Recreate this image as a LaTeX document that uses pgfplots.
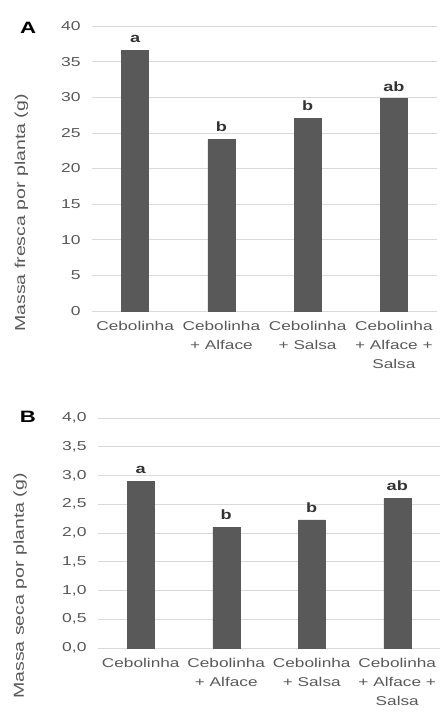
\documentclass[border=0pt]{standalone}
\usepackage{pgfplots}
\pgfplotsset{compat=1.18}
\usepackage{fontspec}
\setmainfont{Liberation Sans}[FakeStretch=1.35]
\definecolor{bar}{HTML}{595959}
\definecolor{txt}{HTML}{595959}
\definecolor{grid}{HTML}{D9D9D9}
\pgfplotsset{
  common/.style={
    scale only axis,
    clip=false,
    xmin=-0.5, xmax=3.5,
    ymin=0,
    axis x line*=bottom,
    axis y line*=left,
    y axis line style={draw=none},
    x axis line style={draw=grid, line width=0.8pt, -},
    ymajorgrids,
    grid style={draw=grid, line width=0.7pt},
    xtick={0,1,2,3},
    xticklabels={Cebolinha, Cebolinha\\+ Alface, Cebolinha\\+ Salsa, Cebolinha\\+ Alface +\\Salsa},
    xticklabel style={align=center, font=\fontsize{12.8}{19.5}\selectfont, text=txt, yshift=-2bp},
    x tick style={draw=none},
    y tick style={draw=none},
    yticklabel style={font=\fontsize{13}{15}\selectfont, text=txt, xshift=-8bp},
    /pgf/number format/assume math mode=true,
    ylabel style={font=\fontsize{14.5}{17}\selectfont, text=txt},
    ybar,
    bar width=27bp,
    nodes near coords,
    point meta=explicit symbolic,
    nodes near coords style={font=\bfseries\fontsize{13.5}{15}\selectfont, text=black!80, yshift=4bp},
  }
}
\begin{document}
\begin{tikzpicture}[x=1bp,y=1bp]
\useasboundingbox (0,0) rectangle (443,716);
\begin{axis}[common,
  at={(92bp,405bp)}, anchor=south west,
  width=345bp, height=285bp,
  ymax=40, ytick={0,5,...,40},
  ylabel={Massa fresca por planta (g)},
  ylabel style={at={(axis description cs:-0.205,0.344)}, anchor=center},
]
\addplot[fill=bar, draw=bar] coordinates {(0,36.6)[a] (1,24.1)[b] (2,27.0)[b] (3,29.8)[ab]};
\node[font=\bfseries\fontsize{16.5}{18}\selectfont, anchor=center] at (axis description cs:-0.185,0.995) {A};
\end{axis}
\begin{axis}[common,
  at={(98bp,68bp)}, anchor=south west,
  width=342bp, height=230bp,
  ymax=4, ytick={0,0.5,...,4},
  yticklabel style={/pgf/number format/.cd, use comma, fixed, fixed zerofill, precision=1},
  ylabel={Massa seca por planta (g)},
  ylabel style={at={(axis description cs:-0.228,0.27)}, anchor=center},
]
\addplot[fill=bar, draw=bar] coordinates {(0,2.90)[a] (1,2.10)[b] (2,2.23)[b] (3,2.60)[ab]};
\node[font=\bfseries\fontsize{16.5}{18}\selectfont, anchor=center] at (axis description cs:-0.205,1.004) {B};
\end{axis}
\end{tikzpicture}
\end{document}
